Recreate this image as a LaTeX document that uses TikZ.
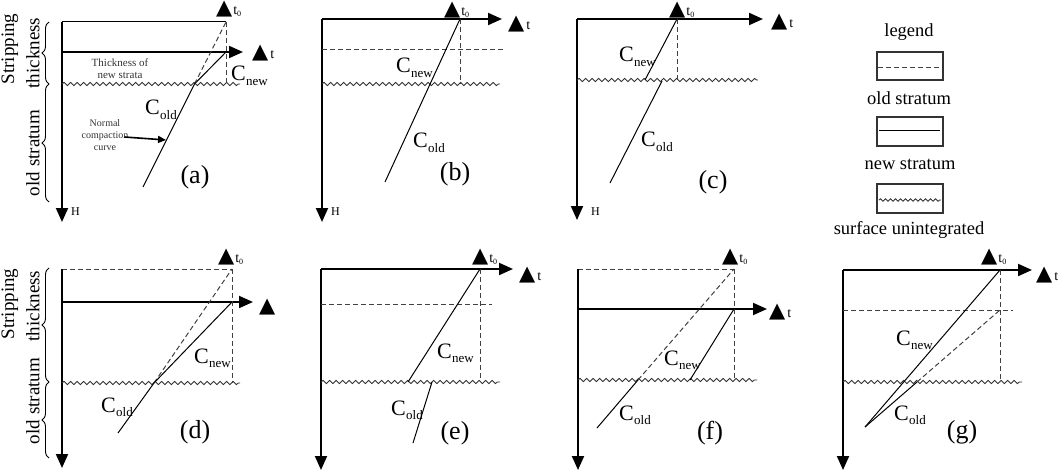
\documentclass[tikz,border=0pt]{standalone}
\usepackage{fontspec}
\setmainfont{Liberation Serif}
\newfontfamily\symfont{DejaVu Sans}
\usetikzlibrary{arrows.meta,decorations.pathmorphing,decorations.pathreplacing}
\newcommand{\Cl}[1]{C\kern0.3pt\raisebox{-4.5pt}{\fontsize{13}{13}\selectfont #1}}
\newcommand{\trimark}{{\symfont\fontsize{21}{21}\selectfont ▲}}
\newcommand{\tzero}{\trimark\kern1pt t\raisebox{-2pt}{\fontsize{8}{8}\selectfont 0}}
\newcommand{\tmark}{\trimark\kern2pt t}
\tikzset{
 ax/.style={line width=2pt, -{Triangle[length=14pt,width=12pt]}},
 thinl/.style={line width=1pt},
 dsh/.style={line width=1pt, dash pattern=on 5pt off 3pt, black!75},
 wav/.style={line width=0.9pt, black!80, decorate, decoration={snake, amplitude=1.6pt, segment length=6.5pt}},
 clab/.style={anchor=base west, inner sep=0pt, font=\fontsize{22}{22}\selectfont},
 plab/.style={inner sep=0pt, font=\fontsize{26}{26}\selectfont},
 tlab/.style={anchor=base west, inner sep=0pt, font=\fontsize{14}{14}\selectfont},
 hlab/.style={anchor=west, inner sep=0pt, font=\fontsize{12}{12}\selectfont},
 side/.style={rotate=90, inner sep=0pt, font=\fontsize{19}{19}\selectfont},
 brc/.style={decorate, decoration={brace, amplitude=7pt}, line width=0.9pt},
 leg/.style={inner sep=0pt, font=\fontsize{18.5}{18.5}\selectfont},
 lbox/.style={draw=black!80, line width=1.1pt},
 note/.style={inner sep=0pt, align=center, text=black!80},
}
\begin{document}
\begin{tikzpicture}[x=1pt,y=-1pt]
\useasboundingbox (0,0) rectangle (1059,473);

% ---------- panel (a) ----------
\draw[thinl] (62,22) -- (226,22);
\draw[ax] (62,22) -- (62,222);
\node[hlab] (aH) at (71,212) {H};
\draw[ax] (62,52) -- (243,52);
\draw[wav] (62,84) -- (240,84);
\draw[dsh] (226,22) -- (226,84);
\draw[thinl] (143,187) -- (194.5,84);
\draw[dsh] (194.5,84) -- (226,22);
\draw[thinl] (194.5,84) -- (226,52);
\node[tlab] (at0) at (216,15) {\tzero};
\node[tlab] (at) at (252,59) {\tmark};
\node[clab] (anew) at (231,81) {\Cl{new}};
\node[clab] (aold) at (145,115) {\Cl{old}};
\node[note, font=\fontsize{11}{12}\selectfont] (athk) at (120,69) {Thickness of\\new strata};
\node[note, font=\fontsize{10}{12}\selectfont] (anorm) at (105,135) {Normal\\compaction\\curve};
\coordinate (anc) at (166,140);
\draw[line width=1.6pt, -{Triangle[length=8pt,width=7pt]}] (anorm.east) ++(-4,2) -- (anc);
\node[plab] (alab) at (195,177) {(a)};
\draw[brc] (49,84) -- (49,22);
\draw[brc] (49,202) -- (49,84);
\node[side] (as1) at (10,49) {Stripping};
\node[side] (as2) at (33,53) {thickness};
\node[side] (as3) at (33,153) {old stratum};

% ---------- panel (b) ----------
\draw[ax] (322,19) -- (322,222);
\node[hlab] (bH) at (331,212) {H};
\draw[ax] (322,19) -- (502,19);
\draw[dsh] (322,50) -- (503,50);
\draw[wav] (322,84) -- (500,84);
\draw[dsh] (460,19) -- (460,84);
\draw[thinl] (385,182) -- (460,19);
\node[tlab] (bt0) at (444,16) {\tzero};
\node[tlab] (bt) at (508,30) {\tmark};
\node[clab] (bnew) at (396,73) {\Cl{new}};
\node[clab] (bold) at (413,148) {\Cl{old}};
\node[plab] (blab) at (455,174) {(b)};

% ---------- panel (c) ----------
\draw[ax] (577,19) -- (577,220);
\node[hlab] (cH) at (591,212) {H};
\draw[ax] (577,19) -- (763,19);
\draw[wav] (577,80) -- (758,80);
\draw[dsh] (677,19) -- (677,80);
\draw[thinl] (677,19) -- (645,80);
\draw[thinl] (662,81) -- (610,183);
\node[tlab] (ct0) at (669,16) {\tzero};
\node[tlab] (ct) at (771,28) {\tmark};
\node[clab] (cnew) at (619,62) {\Cl{new}};
\node[clab] (cold) at (641,147) {\Cl{old}};
\node[plab] (clab) at (713,182) {(c)};

% ---------- legend ----------
\node[leg] (lg) at (909,32) {legend};
\draw[lbox] (877,52) rectangle (943,80);
\draw[dsh] (878,68) -- (942,68);
\node[leg] (l1) at (909,98) {old stratum};
\draw[lbox] (877,117) rectangle (943,146);
\draw[thinl] (879,131) -- (940,131);
\node[leg] (l2) at (910,164) {new stratum};
\draw[lbox] (877,184) rectangle (943,213);
\draw[wav, decoration={snake, amplitude=1.2pt, segment length=5pt}] (879,200) -- (941,200);
\node[leg] (l3) at (909,230) {surface unintegrated};

% ---------- panel (d) ----------
\draw[dsh] (62,269) -- (232,269);
\draw[ax] (62,269) -- (62,468);
\draw[ax] (62,302) -- (253,302);
\draw[dsh] (232,269) -- (232,383);
\draw[wav] (62,383) -- (240,383);
\draw[thinl] (118,433) -- (154,383);
\draw[dsh] (154,383) -- (232,269);
\draw[thinl] (154,383) -- (232,302);
\node[tlab] (dt0) at (218,262) {\tzero};
\node[tlab] (dt) at (259,312) {\trimark};
\node[clab] (dnew) at (194,363) {\Cl{new}};
\node[clab] (dold) at (101,412) {\Cl{old}};
\node[plab] (dlab) at (195,432) {(d)};
\draw[brc] (49,382) -- (49,268);
\draw[brc] (49,458) -- (49,382);
\node[side] (ds1) at (10,304) {Stripping};
\node[side] (ds2) at (33,306) {thickness};
\node[side] (ds3) at (33,401) {old stratum};

% ---------- panel (e) ----------
\draw[ax] (321,269) -- (321,470);
\draw[ax] (321,269) -- (513,269);
\draw[dsh] (321,304) -- (492,304);
\draw[wav] (321,382) -- (500,382);
\draw[dsh] (480,269) -- (480,382);
\draw[thinl] (480,269) -- (408,382);
\draw[thinl] (432,382) -- (413,443);
\node[tlab] (et0) at (472,262) {\tzero};
\node[tlab] (et) at (519,280) {\tmark};
\node[clab] (enew) at (437,358) {\Cl{new}};
\node[clab] (eold) at (391,415) {\Cl{old}};
\node[plab] (elab) at (455,433) {(e)};

% ---------- panel (f) ----------
\draw[dsh] (578,269) -- (734,269);
\draw[ax] (578,269) -- (578,470);
\draw[ax] (578,309) -- (767,309);
\draw[dsh] (734,269) -- (734,380);
\draw[wav] (578,380) -- (757,380);
\draw[thinl] (597,428) -- (638,380);
\draw[dsh] (638,380) -- (734,269);
\draw[thinl] (734,309) -- (690,380);
\node[tlab] (ft0) at (722,262) {\tzero};
\node[tlab] (ft) at (769,317) {\tmark};
\node[clab] (fnew) at (664,365) {\Cl{new}};
\node[clab] (fold) at (619,420) {\Cl{old}};
\node[plab] (flab) at (710,433) {(f)};

% ---------- panel (g) ----------
\draw[ax] (843,270) -- (843,470);
\draw[ax] (843,270) -- (1032,270);
\draw[dsh] (843,310) -- (1013,310);
\draw[wav] (843,382) -- (1022,382);
\draw[dsh] (1000,270) -- (1000,382);
\draw[thinl] (1000,270) -- (865,427);
\draw[thinl] (865,427) -- (917,382);
\draw[dsh] (917,382) -- (1000,310);
\node[tlab] (gt0) at (981,262) {\tzero};
\node[tlab] (gt) at (1036,280) {\tmark};
\node[clab] (gnew) at (896,345) {\Cl{new}};
\node[clab] (gold) at (894,420) {\Cl{old}};
\node[plab] (glab) at (962,432) {(g)};
\end{tikzpicture}
\end{document}
